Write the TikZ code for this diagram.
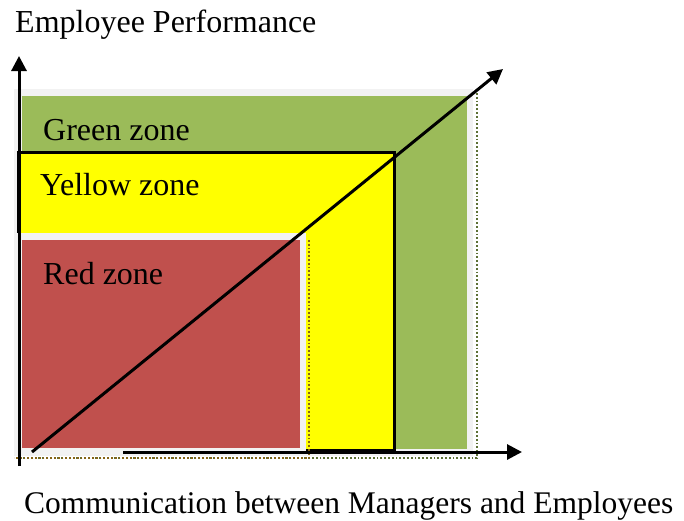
\documentclass[tikz,border=0pt]{standalone}
\usepackage{fontspec}
\setmainfont{Liberation Serif}
\usetikzlibrary{arrows.meta, positioning}
\definecolor{ZoneGreen}{HTML}{9BBB59}
\definecolor{ZoneYellow}{HTML}{FFFF00}
\definecolor{ZoneRed}{HTML}{C0504D}
\definecolor{FrameGray}{HTML}{F2F2F2}

\begin{document}
\begin{tikzpicture}[x=1pt, y=-1pt, >={Triangle[length=15pt, width=15pt]},
    zonetext/.style={anchor=base west, inner sep=0pt, font=\fontsize{32}{35}\selectfont},
    axis/.style={line width=3pt},
    edge/.style={dotted, line width=1.8pt}]
    \useasboundingbox (0,0) rectangle (684,520);

    % green zone, framed
    \draw[edge, ZoneGreen!60!black] (477,93) -- (477,458) -- (14,458);
    \fill[FrameGray] (14,89) rectangle (473,456);
    \fill[ZoneGreen] (22,96) rectangle (467,449);

    % yellow zone
    \draw[line width=3pt, fill=ZoneYellow] (18,152) rectangle (394,450);

    % red zone, framed
    \draw[edge, ZoneRed!50!ZoneYellow!60!black] (309,240) -- (309,458) -- (14,458);
    \fill[FrameGray] (14,233) rectangle (306,456);
    \fill[ZoneRed] (22,240) rectangle (300,448);

    % axes and trend
    \coordinate (origin) at (19,466);
    \coordinate (ytip) at (19,56);
    \coordinate (xstart) at (123,452);
    \coordinate (xtip) at (522,452);
    \coordinate (dstart) at (32,452);
    \coordinate (dtip) at (503,69);
    \draw[axis, ->] (origin) -- (ytip);
    \draw[axis, ->] (xstart) -- (xtip);
    \draw[axis, ->] (dstart) -- (dtip);

    % labels
    \node[zonetext] (ylab) at (15,32) {Employee Performance};
    \node[zonetext] (green) at (43,140) {Green zone};
    \node[zonetext] (yellow) at (40,195) {Yellow zone};
    \node[zonetext] (red) at (43,284) {Red zone};
    \node[zonetext, font=\fontsize{31.5}{34}\selectfont] (xlab) at (24,513) {Communication between Managers and Employees};
\end{tikzpicture}
\end{document}
